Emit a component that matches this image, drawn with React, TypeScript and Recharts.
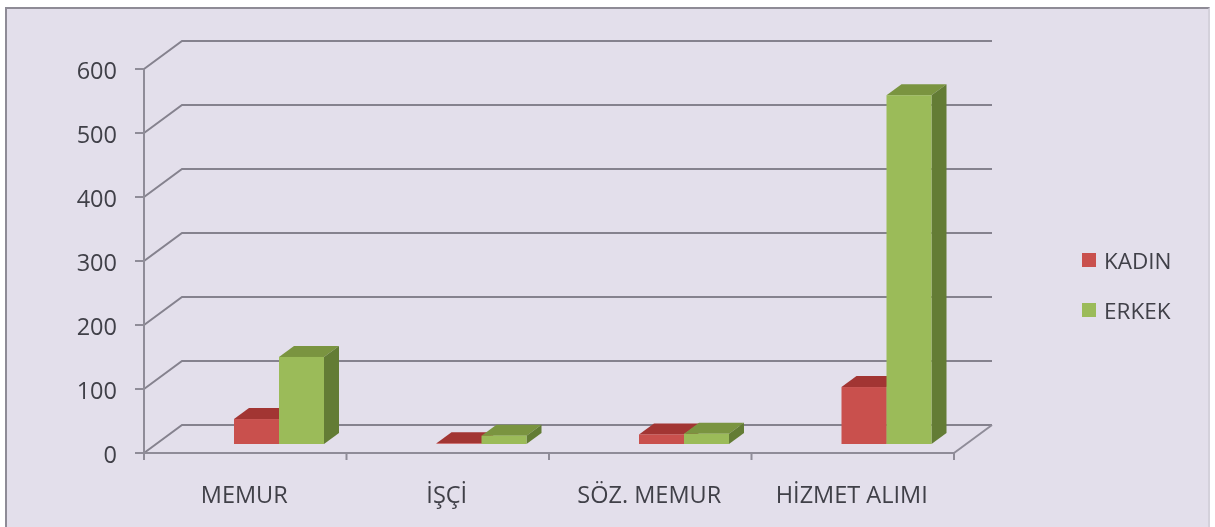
import React from 'react';
import { BarChart, Bar, XAxis, YAxis, CartesianGrid, Legend } from 'recharts';

const categories = ['MEMUR', 'İŞÇİ', 'SÖZ. MEMUR', 'HİZMET ALIMI'];
const kadinValues = [39, 1, 15, 89];
const erkekValues = [136, 13, 16, 545];
const yTicks = [0, 100, 200, 300, 400, 500, 600];

const chartData = categories.map((name, i) => ({
    name,
    kadin: kadinValues[i],
    erkek: erkekValues[i],
}));

const AXIS_COLOR = '#8f8c98';
const WALL_COLOR = '#85828e';
const TEXT_COLOR = '#404048';
const FONT = '"Open Sans", "Noto Sans", sans-serif';

// depth of the fake 3D floor and where the bars sit on it
const WALL_DX = 38;
const WALL_DY = -28;
const BAR_DX = 34;
const BAR_DY = -9;
const TOP_DX = 15;
const TOP_DY = -11;
const BAND_WIDTH = 810 / categories.length;

const makeBar = (front: string, top: string, side: string) => (props: any) => {
    const { x, y, width, height } = props;
    const fx = x + BAR_DX;
    const fy = y + BAR_DY;
    const r = fx + width;
    const b = fy + height;
    return (
        <g>
            <polygon points={`${fx},${fy} ${fx + TOP_DX},${fy + TOP_DY} ${r + TOP_DX},${fy + TOP_DY} ${r},${fy}`} fill={top} />
            <polygon points={`${r},${fy} ${r + TOP_DX},${fy + TOP_DY} ${r + TOP_DX},${b + TOP_DY} ${r},${b}`} fill={side} />
            <rect x={fx} y={fy} width={width} height={height} fill={front} />
        </g>
    );
};

const gridLine = (props: any) => {
    const { x1, x2, y1, key, y, height } = props;
    const isFloor = Math.abs(y1 - (y + height)) < 1;
    return (
        <g key={key}>
            <polyline
                points={`${x1},${y1} ${x1 + WALL_DX},${y1 + WALL_DY} ${x2 + WALL_DX},${y1 + WALL_DY}`}
                fill="none"
                stroke={WALL_COLOR}
                strokeWidth={2}
            />
            {isFloor && (
                <line x1={x2} y1={y1} x2={x2 + WALL_DX} y2={y1 + WALL_DY} stroke={AXIS_COLOR} strokeWidth={2} />
            )}
        </g>
    );
};

// excel puts the x ticks between the categories, not under the labels
const XTick = (props: any) => {
    const { x, y, payload, index } = props;
    const tickY = y - 8;
    return (
        <g>
            {index === 0 && (
                <line x1={x - BAND_WIDTH / 2} y1={tickY} x2={x - BAND_WIDTH / 2} y2={tickY + 7} stroke={AXIS_COLOR} strokeWidth={2} />
            )}
            <line x1={x + BAND_WIDTH / 2} y1={tickY} x2={x + BAND_WIDTH / 2} y2={tickY + 7} stroke={AXIS_COLOR} strokeWidth={2} />
            <text x={x - 1} y={tickY + 50} textAnchor="middle" fontSize={23.5} fontFamily={FONT} fill={TEXT_COLOR}>
                {payload.value}
            </text>
        </g>
    );
};

const LegendBox = ({ payload }: any) => (
    <div>
        {(payload || []).map((item: any) => (
            <div key={item.value} style={{ display: 'flex', alignItems: 'center', height: 50 }}>
                <span style={{ width: 14, height: 14, background: item.color, marginRight: 8 }} />
                <span style={{ fontFamily: FONT, fontSize: 22.5, color: TEXT_COLOR }}>{item.value}</span>
            </div>
        ))}
    </div>
);

export default function App() {
    return (
        <div
            style={{
                position: 'absolute',
                left: 0,
                top: 0,
                width: 1215,
                height: 527,
                background: '#fff',
                overflow: 'hidden',
            }}
        >
            <div
                style={{
                    position: 'absolute',
                    left: 5,
                    top: 7,
                    width: 1205,
                    height: 530,
                    boxSizing: 'border-box',
                    background: '#e3dfeb',
                    borderLeft: '2px solid #8e8b96',
                    borderTop: '2px solid #8e8b96',
                    borderRight: '2px solid #d4d1db',
                }}
            />
            <div style={{ position: 'absolute', left: 0, top: 0, filter: 'blur(0.5px)' }}>
                <BarChart
                    width={1215}
                    height={527}
                    data={chartData}
                    margin={{ top: 69, right: 141, bottom: 44, left: 84 }}
                    barCategoryGap={56}
                    barGap={0}
                >
                    <CartesianGrid vertical={false} horizontal={gridLine} stroke={WALL_COLOR} />
                    <XAxis
                        dataKey="name"
                        height={30}
                        tick={<XTick />}
                        tickLine={false}
                        axisLine={{ stroke: AXIS_COLOR, strokeWidth: 2 }}
                        interval={0}
                    />
                    <YAxis
                        width={60}
                        domain={[0, 600]}
                        ticks={yTicks}
                        tick={{ fontSize: 23.5, fontFamily: FONT, fill: TEXT_COLOR, dy: 2 }}
                        tickSize={9}
                        tickMargin={18}
                        tickLine={{ stroke: AXIS_COLOR, strokeWidth: 2 }}
                        axisLine={{ stroke: AXIS_COLOR, strokeWidth: 2 }}
                    />
                    <Legend
                        layout="vertical"
                        align="right"
                        verticalAlign="top"
                        itemSorter={null}
                        wrapperStyle={{ left: 1082, top: 235, width: 120 }}
                        content={<LegendBox />}
                    />
                    <Bar
                        dataKey="kadin"
                        name="KADIN"
                        fill="#c9504d"
                        barSize={45}
                        shape={makeBar('#c9504d', '#a23533', '#8a2c2a')}
                        isAnimationActive={false}
                    />
                    <Bar
                        dataKey="erkek"
                        name="ERKEK"
                        fill="#9bbb59"
                        barSize={45}
                        shape={makeBar('#9bbb59', '#7a9440', '#637c35')}
                        isAnimationActive={false}
                    />
                </BarChart>
            </div>
        </div>
    );
}
